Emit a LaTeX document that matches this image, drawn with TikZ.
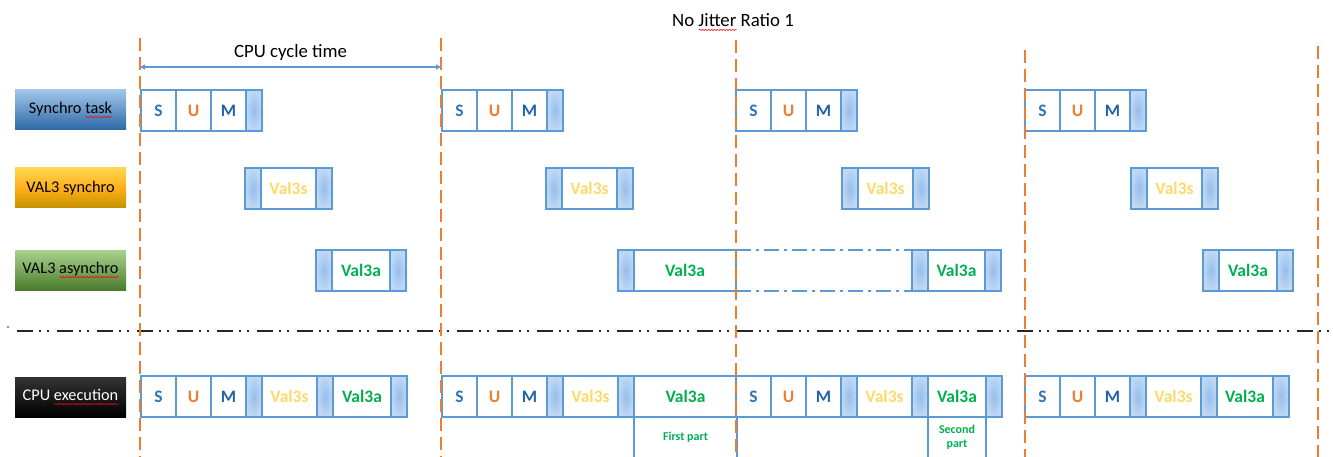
\documentclass[tikz,border=0pt]{standalone}
\usepackage{fontspec}
\setmainfont{Carlito}
\usetikzlibrary{positioning,arrows.meta,decorations.pathmorphing}
\definecolor{cellblue}{RGB}{91,155,213}
\definecolor{barblue}{RGB}{150,190,236}
\definecolor{sblue}{RGB}{46,117,182}
\definecolor{mblue}{RGB}{31,100,170}
\definecolor{uorange}{RGB}{237,125,49}
\definecolor{sgold}{RGB}{255,217,102}
\definecolor{agreen}{RGB}{0,176,80}
\definecolor{tickorange}{RGB}{237,125,49}
\definecolor{synctop}{RGB}{160,198,234}
\definecolor{syncbot}{RGB}{44,104,166}
\definecolor{goldtop}{RGB}{255,214,80}
\definecolor{goldbot}{RGB}{196,146,0}
\definecolor{greentop}{RGB}{170,210,142}
\definecolor{greenbot}{RGB}{74,124,44}
\newsavebox\wavebox
\newcommand\spellwave[1]{\sbox\wavebox{#1}\rlap{\tikz[baseline=0pt]\draw[red,line width=0.5pt,
  decorate,decoration={snake,amplitude=0.7pt,segment length=3pt}]
  (0pt,-3.8pt) -- (\wd\wavebox,-3.8pt);}\usebox\wavebox}
\tikzset{
  slot/.style={draw=cellblue,line width=1.5pt,fill=white,minimum height=41pt,
    minimum width=35pt,inner sep=0pt,outer sep=0pt,
    font=\bfseries\fontsize{17.5}{17}\selectfont},
  slotbar/.style={slot,minimum width=16pt,shading=radial,inner color=barblue,
    outer color=barblue!60},
  lab/.style={minimum width=111pt,minimum height=40pt,inner sep=0pt,
    font=\fontsize{16.3}{16}\selectfont},
  tick/.style={tickorange,line width=1.6pt,dash pattern=on 13pt off 6pt},
  note/.style={slot,minimum height=41pt,text=agreen,
    font=\bfseries\fontsize{12}{14}\selectfont,align=center}
}

\begin{document}
\begin{tikzpicture}[x=1pt,y=-1pt]
  \useasboundingbox (0,0) rectangle (1333,457);
  % title and cycle span
  \node (title) at (733,22) {\fontsize{18.8}{19}\selectfont No \spellwave{Jitter} Ratio 1};
  \foreach \x/\y [count=\i] in {140/38,441/38,736/40,1025/50,1318/46} {
    \coordinate (top\i) at (\x,\y);
    \coordinate (bot\i) at (\x,457);
  }
  \coordinate (span1) at (140,67);
  \coordinate (span2) at (441,67);
  \draw[cellblue,line width=1.3pt,{Triangle[length=5pt,width=5pt]}-{Triangle[length=5pt,width=5pt]}]
    (span1) -- node[above=2pt,black,font=\fontsize{18.8}{19}\selectfont] (spanlab) {CPU cycle time} (span2);

  % row labels
  \node[lab,top color=synctop,bottom color=syncbot] (lsync) at (70.5,110) {Synchro \spellwave{task}};
  \node[lab,top color=goldtop,bottom color=goldbot,middle color=yellow!30!orange!90!white] (lval3s) at (70.5,188) {VAL3 synchro};
  \node[lab,top color=greentop,bottom color=greenbot] (lval3a) at (70.5,270) {VAL3 \spellwave{asynchro}};
  \node[lab,top color=black!80,bottom color=black,text=white] (lcpu) at (70.5,397) {CPU \spellwave{execution}};

  % synchro task: S U M
  \foreach \x [count=\i] in {141,442,736,1025} {
    \node[slot,anchor=north west] (s\i) at (\x,90) {\textcolor{sblue}{S}};
    \node[slot,right=0pt of s\i] (u\i) {\textcolor{uorange}{U}};
    \node[slot,right=0pt of u\i] (m\i) {\textcolor{mblue}{M}};
    \node[slotbar,right=0pt of m\i] (mb\i) {};
  }

  % val3 synchro
  \foreach \x [count=\i] in {245,546,842,1131} {
    \node[slotbar,anchor=north west] (vsl\i) at (\x,168) {};
    \node[slot,minimum width=55pt,right=0pt of vsl\i] (vs\i) {\textcolor{sgold}{Val3s}};
    \node[slotbar,right=0pt of vs\i] (vsr\i) {};
  }

  % val3 asynchro
  \node[slotbar,anchor=north west] (val1) at (316,250) {};
  \node[slot,minimum width=58pt,right=0pt of val1] (va1) {\textcolor{agreen}{Val3a}};
  \node[slotbar,right=0pt of va1] (var1) {};
  \node[slotbar,anchor=north west] (val2) at (618,250) {};
  \node[slot,minimum width=102pt,right=0pt of val2] (va2) {\textcolor{agreen}{Val3a}};
  \draw[cellblue,line width=1.5pt,dash pattern=on 15pt off 5pt on 3pt off 5pt]
    (va2.north east) -- (912,250) (va2.south east) -- (912,291);
  \node[slotbar,anchor=north west] (val3) at (912,250) {};
  \node[slot,minimum width=57pt,right=0pt of val3] (va3) {\textcolor{agreen}{Val3a}};
  \node[slotbar,right=0pt of va3] (var3) {};
  \node[slotbar,anchor=north west] (val4) at (1203,250) {};
  \node[slot,minimum width=58pt,right=0pt of val4] (va4) {\textcolor{agreen}{Val3a}};
  \node[slotbar,right=0pt of va4] (var4) {};

  % separator
  \fill[black!85] (8,327) circle (0.8pt);
  \draw[black!85,line width=2.2pt,dash pattern=on 16pt off 6pt on 2pt off 6pt on 2pt off 8pt]
    (17,331) -- (1333,331);

  % cpu execution
  \foreach \x/\w [count=\i] in {141/58,442/103,736/58,1025/56} {
    \node[slot,anchor=north west] (cs\i) at (\x,376) {\textcolor{sblue}{S}};
    \node[slot,right=0pt of cs\i] (cu\i) {\textcolor{uorange}{U}};
    \node[slot,right=0pt of cu\i] (cm\i) {\textcolor{mblue}{M}};
    \node[slotbar,right=0pt of cm\i] (cmb\i) {};
    \node[slot,minimum width=55pt,right=0pt of cmb\i] (cvs\i) {\textcolor{sgold}{Val3s}};
    \node[slotbar,right=0pt of cvs\i] (cvsb\i) {};
    \node[slot,minimum width=\w pt,right=0pt of cvsb\i] (cva\i) {\textcolor{agreen}{Val3a}};
  }
  \node[slotbar,right=0pt of cva1] (cvab1) {};
  \node[slotbar,right=0pt of cva3] (cvab3) {};
  \node[slotbar,right=0pt of cva4] (cvab4) {};
  \node[note,minimum width=103pt,below=0pt of cva2] (first) {First part};
  \node[note,minimum width=58pt,below=0pt of cva3] (second) {Second\\part};

  % cycle ticks
  \foreach \i in {1,...,5}
    \draw[tick] (top\i) -- (bot\i);
\end{tikzpicture}
\end{document}
